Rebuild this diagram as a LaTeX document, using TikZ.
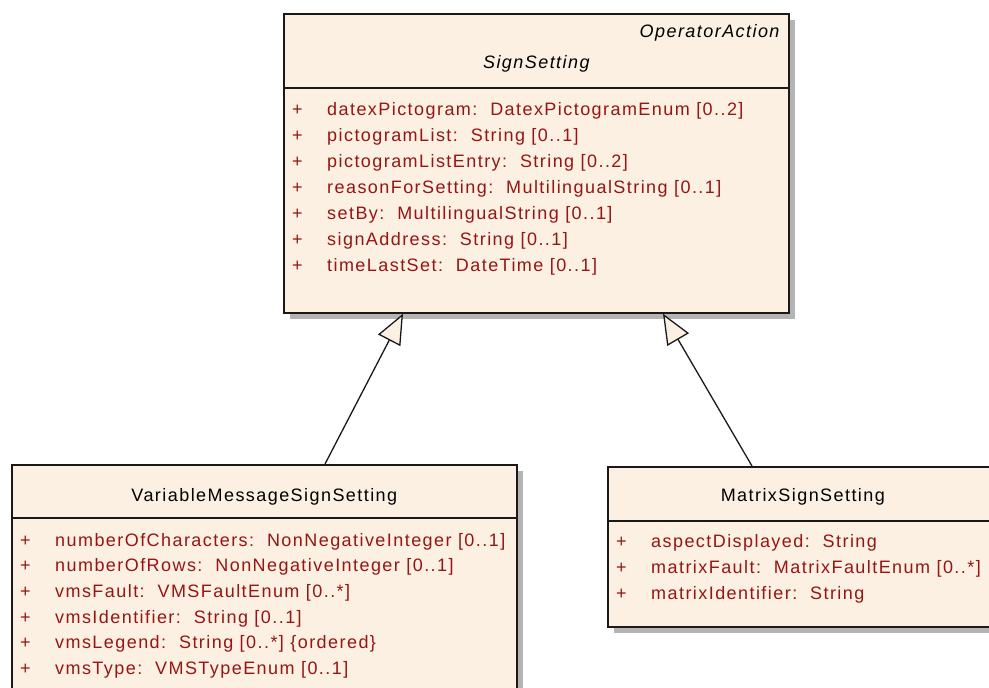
\documentclass[tikz,border=0pt]{standalone}
\usepackage{fontspec}
\setmainfont{Liberation Sans}[LetterSpace=8]
\usetikzlibrary{positioning,shadows,arrows.meta}
\definecolor{umlfill}{HTML}{FBF0E1}
\definecolor{umlattr}{HTML}{961515}
\definecolor{umlshadow}{HTML}{B4B4B4}
\tikzset{
  umlclass/.style={draw=black!90, line width=1.7pt, fill=umlfill, anchor=north west, inner sep=0pt,
    drop shadow={shadow xshift=6pt, shadow yshift=-6pt, fill=umlshadow, opacity=1}},
  umlname/.style={font=\fontsize{18}{22}\selectfont, inner sep=0pt},
  umlattr/.style={font=\fontsize{18}{22}\selectfont, text=umlattr, inner sep=0pt, anchor=base west},
  umlplus/.style={font=\fontsize{18}{22}\selectfont, text=umlattr, inner sep=0pt, anchor=base},
  umlsep/.style={draw=black!90, line width=1.7pt},
  umlinherit/.style={draw=black!90, line width=1.3pt, -{Triangle[length=30pt, width=25pt, fill=umlfill]}}
}

\begin{document}
\begin{tikzpicture}[x=1pt, y=-1pt]
    \clip (0,0) rectangle (989,688);
    \node[umlclass, minimum width=505pt, minimum height=299pt] (sign) at (283,13) {};
    \node[umlclass, minimum width=505pt, minimum height=260pt] (vms) at (11,464) {};
    \node[umlclass, minimum width=390pt, minimum height=160pt] (matrix) at (607,466) {};

    \coordinate (signsep) at ([yshift=-75pt]sign.north west);
    \coordinate (vmssep) at ([yshift=-54pt]vms.north west);
    \coordinate (matrixsep) at ([yshift=-55pt]matrix.north west);
    \draw[umlsep] (signsep) -- (signsep -| sign.east);
    \draw[umlsep] (vmssep) -- (vmssep -| vms.east);
    \draw[umlsep] (matrixsep) -- (matrixsep -| matrix.east);

    \node[umlname, anchor=east] (signparent) at ([xshift=-10pt, yshift=-20pt]sign.north east) {\itshape OperatorAction};
    \node[umlname] (signname) at ([yshift=-51pt]sign.north) {\itshape SignSetting};
    \node[umlname] (vmsname) at ([yshift=-33pt]vms.north) {VariableMessageSignSetting};
    \node[umlname] (matrixname) at ([yshift=-31pt]matrix.north) {MatrixSignSetting};

    \foreach \a [count=\i] in {{datexPictogram:\ \ DatexPictogramEnum [0..2]},
        {pictogramList:\ \ String [0..1]}, {pictogramListEntry:\ \ String [0..2]},
        {reasonForSetting:\ \ MultilingualString [0..1]}, {setBy:\ \ MultilingualString [0..1]},
        {signAddress:\ \ String [0..1]}, {timeLastSet:\ \ DateTime [0..1]}} {
      \node[umlplus] (signplus\i) at ([xshift=14.5pt, yshift={-27pt-(\i-1)*26pt}]signsep) {+};
      \node[umlattr] (signattr\i) at ([xshift=44pt, yshift={-27pt-(\i-1)*26pt}]signsep) {\a};
    }
    \foreach \a [count=\i] in {{numberOfCharacters:\ \ NonNegativeInteger [0..1]},
        {numberOfRows:\ \ NonNegativeInteger [0..1]}, {vmsFault:\ \ VMSFaultEnum [0..*]},
        {vmsIdentifier:\ \ String [0..1]}, {vmsLegend:\ \ String [0..*] \{ordered\}},
        {vmsType:\ \ VMSTypeEnum [0..1]}} {
      \node[umlplus] (vmsplus\i) at ([xshift=14.5pt, yshift={-28pt-(\i-1)*25.7pt}]vmssep) {+};
      \node[umlattr] (vmsattr\i) at ([xshift=44pt, yshift={-28pt-(\i-1)*25.7pt}]vmssep) {\a};
    }
    \foreach \a [count=\i] in {{aspectDisplayed:\ \ String},
        {matrixFault:\ \ MatrixFaultEnum [0..*]}, {matrixIdentifier:\ \ String}} {
      \node[umlplus] (matrixplus\i) at ([xshift=14.5pt, yshift={-26pt-(\i-1)*26pt}]matrixsep) {+};
      \node[umlattr] (matrixattr\i) at ([xshift=44pt, yshift={-26pt-(\i-1)*26pt}]matrixsep) {\a};
    }

    \coordinate (vmstop) at ([xshift=314pt]vms.north west);
    \coordinate (matrixtop) at ([xshift=145pt]matrix.north west);
    \coordinate (signleft) at ([xshift=120pt]sign.south west);
    \coordinate (signright) at ([xshift=380pt]sign.south west);
    \draw[umlinherit] (vmstop) -- (signleft);
    \draw[umlinherit] (matrixtop) -- (signright);
\end{tikzpicture}
\end{document}
